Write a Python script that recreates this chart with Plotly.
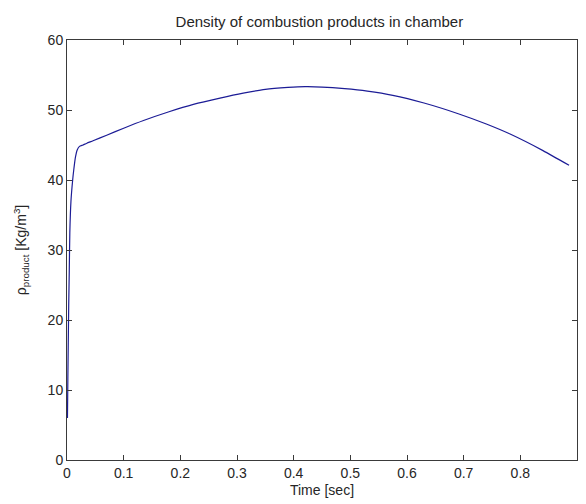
import plotly.graph_objects as go

time_sec = [0.0008, 0.0015, 0.003, 0.004, 0.005, 0.007, 0.010, 0.012, 0.015, 0.018,
            0.022, 0.028, 0.035, 0.046, 0.07, 0.10, 0.135, 0.18, 0.223, 0.27,
            0.311, 0.35, 0.39, 0.42, 0.45, 0.49, 0.53, 0.575, 0.63, 0.693,
            0.74, 0.781, 0.84, 0.886]
rho_product = [6.0, 11.5, 22.0, 27.0, 32.5, 37.0, 40.0, 41.5, 43.3, 44.3,
               44.8, 45.0, 45.25, 45.6, 46.4, 47.4, 48.5, 49.75, 50.8, 51.7,
               52.4, 52.95, 53.22, 53.33, 53.28, 53.05, 52.7, 52.1, 51.0, 49.4,
               48.0, 46.6, 44.2, 42.1]

x_ticks = [0, 0.1, 0.2, 0.3, 0.4, 0.5, 0.6, 0.7, 0.8, 0.9]
x_tick_text = ["0", "0.1", "0.2", "0.3", "0.4", "0.5", "0.6", "0.7", "0.8", "0.9"]
y_ticks = [0, 10, 20, 30, 40, 50, 60]

FONT = "Liberation Sans"
TXT = "#262626"
fig = go.Figure()
fig.add_trace(go.Scatter(x=time_sec, y=rho_product, mode="lines",
                         line=dict(color="#1c1c96", width=1.2), line_shape="spline",
                         line_smoothing=0.6, showlegend=False))

axis_common = dict(showgrid=False, zeroline=False, showline=True, linecolor="#3a3a3a",
                   linewidth=1, mirror="ticks", ticks="inside", ticklen=5,
                   tickcolor="#3a3a3a", tickwidth=1,
                   tickfont=dict(family=FONT, size=14, color=TXT))

fig.update_layout(
    width=586, height=504,
    margin=dict(l=67, r=9, t=40, b=44),
    paper_bgcolor="white", plot_bgcolor="white",
    title=dict(text="Density of combustion products in chamber", x=0.545, xanchor="center",
               y=0.956, yanchor="middle", font=dict(family=FONT, size=15, color=TXT)),
    xaxis=dict(range=[0, 0.9], tickvals=x_ticks, ticktext=x_tick_text,
               title=dict(text="Time [sec]", standoff=5, font=dict(family=FONT, size=14, color=TXT)),
               **axis_common),
    yaxis=dict(range=[0, 60], tickvals=y_ticks,
               title=dict(text="ρ<sub>product</sub> [Kg/m<sup>3</sup>]", standoff=17,
                          font=dict(family=FONT, size=14, color=TXT)),
               **axis_common),
)
fig.write_html("out.html")
